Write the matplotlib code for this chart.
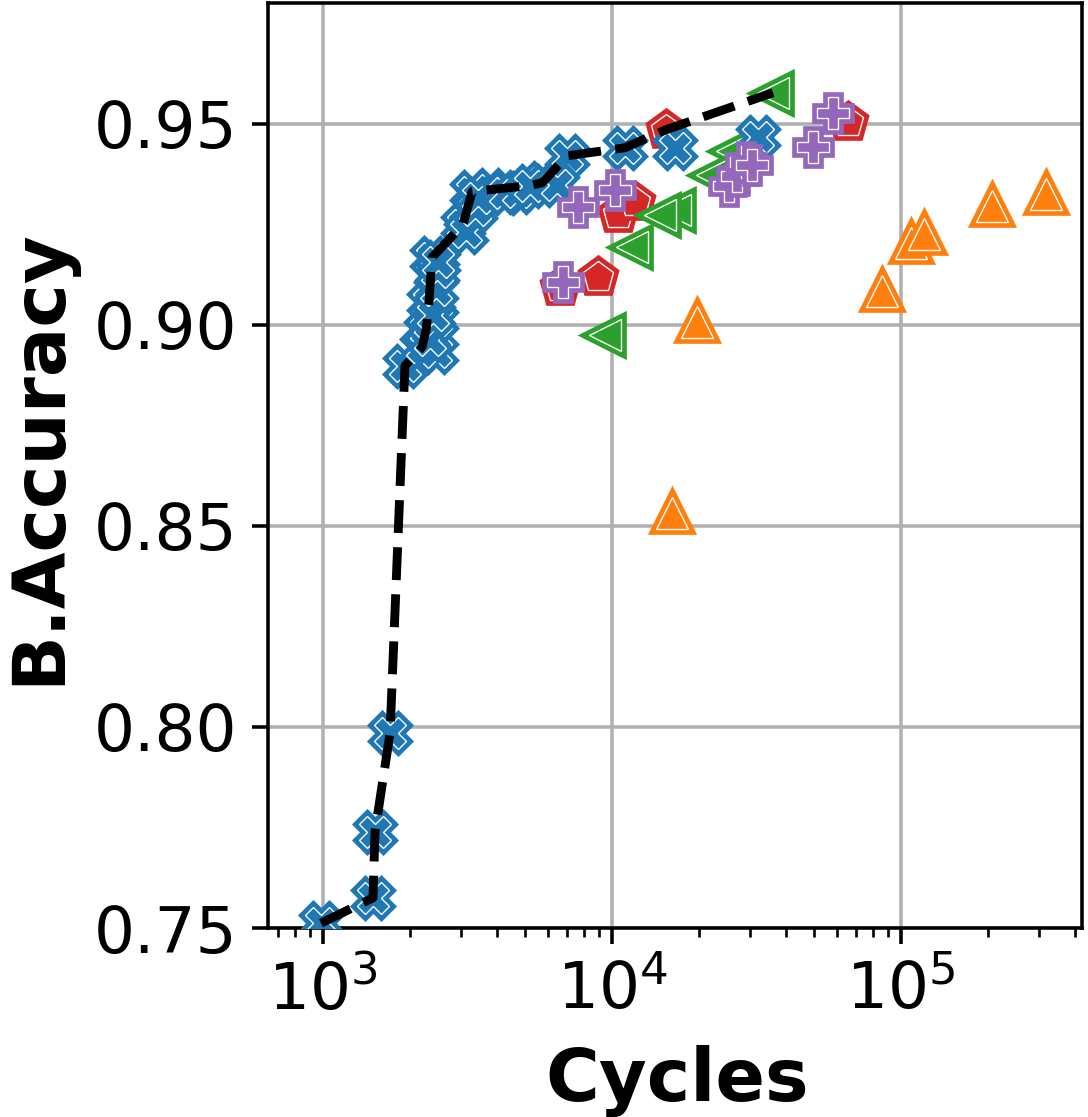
import matplotlib
matplotlib.use("Agg")
import matplotlib.pyplot as plt
import numpy as np

# ---- data (Cycles, balanced accuracy) ----
blue_x = [984, 1489, 1513, 1706, 1921, 2201, 2274, 2327, 2382, 3048, 3279, 3786,
          5733, 6990, 11080,
          2460, 2345, 2460, 2402, 2460, 2480, 2500, 3125, 3357, 3443, 4263, 4729,
          5202, 6450, 16520, 31990]
blue_y = [0.7512, 0.7575, 0.7739, 0.7985, 0.8898, 0.8945, 0.8988, 0.9057, 0.9167,
          0.9249, 0.9331, 0.9336, 0.9353, 0.9420, 0.9440,
          0.8933, 0.8963, 0.9012, 0.9025, 0.9087, 0.9132, 0.9157, 0.9231, 0.9286,
          0.9316, 0.9328, 0.9331, 0.9346, 0.9348, 0.9440, 0.9468]

red_x = [15380, 10490, 12010, 8944, 6607, 65550]
red_y = [0.9485, 0.9276, 0.9306, 0.9119, 0.9095, 0.9505]

green_x = [36060, 26020, 22180, 16530, 14660, 11730, 9459]
green_y = [0.9577, 0.9433, 0.9373, 0.9286, 0.9274, 0.9194, 0.8975]

purple_x = [6768, 7628, 10240, 25410, 27070, 29080, 30510, 49610, 58170]
purple_y = [0.9107, 0.9294, 0.9336, 0.9346, 0.9371, 0.9405, 0.9398, 0.9443, 0.9527]

orange_x = [16130, 19680, 85910, 108300, 120100, 206500, 317600]
orange_y = [0.8532, 0.9007, 0.9085, 0.9204, 0.9226, 0.9296, 0.9326]

yticks = [0.75, 0.80, 0.85, 0.90, 0.95]

# ---- figure ----
fig = plt.figure(figsize=(3.4, 1117 / 320), dpi=320)
ax = fig.add_axes([0.24632, 0.16920, 0.74817, 0.82811])

series = [
    (red_x, red_y, "#d62728", "p"),
    (green_x, green_y, "#2ca02c", "<"),
    (orange_x, orange_y, "#ff7f0e", "^"),
    (blue_x, blue_y, "#1f77b4", "X"),
    (purple_x, purple_y, "#9467bd", "P"),
]

ms = 7.3
z = 2
for xs, ys, c, m in series:
    for xv, yv in zip(xs, ys):
        ax.plot([xv], [yv], linestyle="none", marker=m, ms=ms, mfc=c, mec=c,
                mew=2.4, zorder=z, clip_on=True)
        ax.plot([xv], [yv], linestyle="none", marker=m, ms=ms, mfc="none",
                mec="white", mew=0.3, zorder=z + 0.5, clip_on=True)
        z += 1

# Pareto front over all points
all_x = np.concatenate([blue_x, red_x, green_x, purple_x, orange_x])
all_y = np.concatenate([blue_y, red_y, green_y, purple_y, orange_y])
order = np.argsort(all_x)
px, py = [], []
best = -np.inf
for i in order:
    if all_y[i] > best:
        best = all_y[i]
        px.append(all_x[i])
        py.append(all_y[i])
ax.plot(px, py, "--", color="black", lw=2.0, zorder=z + 10)

ax.set_xscale("log")
ax.set_xlim(645, 4.23e5)
ax.set_ylim(0.75, 0.98)
ax.set_yticks(yticks)
ax.set_yticklabels([f"{v:.2f}" for v in yticks])
ax.grid(True, which="major", color="#b0b0b0", lw=0.8)
ax.set_axisbelow(True)
ax.tick_params(axis="both", which="major", labelsize=14.5)

ax.set_xlabel("Cycles", fontsize=16.5, fontweight="bold")
ax.set_ylabel("B.Accuracy", fontsize=16.5, fontweight="bold")
ax.xaxis.set_label_coords(0.503, -0.126)
ax.yaxis.set_label_coords(-0.237, 0.51)

fig.savefig("out.png", dpi=320)
